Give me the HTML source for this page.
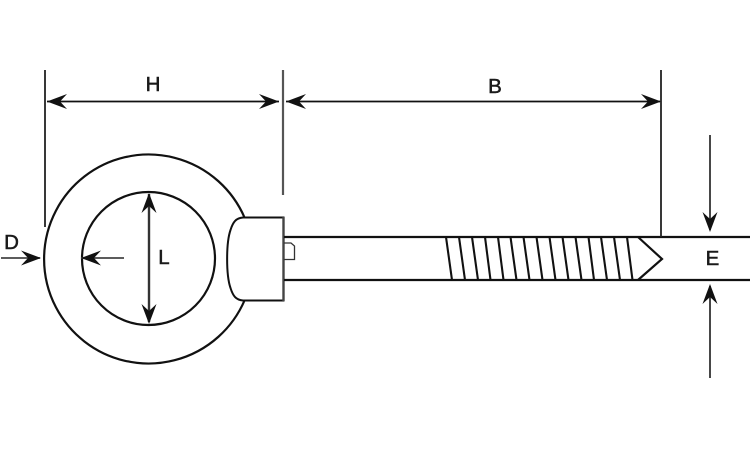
<!DOCTYPE html>
<html>
<head>
<meta charset="utf-8">
<style>
html,body{margin:0;padding:0;background:#fff;width:750px;height:450px;overflow:hidden}
svg{display:block}
text{font-family:"Liberation Sans",sans-serif;font-size:20.5px;fill:#1a1a1a;stroke:#1a1a1a;stroke-width:.5;text-anchor:middle}
#d{filter:blur(.35px)}
</style>
</head>
<body>
<svg width="750" height="450" viewBox="0 0 750 450" xmlns="http://www.w3.org/2000/svg">
<defs>
<path id="a" d="M0 0L-20 -7.500L-13 0L-20 7.500Z" fill="#111"/>
</defs>
<rect width="750" height="450" fill="#fff"/>
<g id="d">
<g fill="none" stroke="#111" stroke-width="2">
<!-- ring -->
<path d="M244.500 217.500A104.500 104.500 0 1 0 244.500 300.500" stroke-width="2.200"/>
<circle cx="148.500" cy="258.500" r="66.500" stroke-width="2.200"/>
<!-- head -->
<path d="M283.500 217.500H243C236 218 233 222 230.500 230C226 243 226 275 230.500 288C233 296 236 300 243 300.500H283.500Z"/>
<line x1="283.500" y1="217" x2="283.500" y2="301" stroke="#444" stroke-width="2.400"/>
<!-- shaft -->
<line x1="284" y1="237" x2="750" y2="237" stroke-width="2.200"/>
<line x1="284" y1="280" x2="750" y2="280" stroke-width="2.200"/>
<path d="M284 243H291L294.500 246V259.500H284" stroke="#333" stroke-width="1.300"/>
<!-- tip -->
<path d="M638 237L662 259L638 280" stroke-width="2.200"/>
<!-- threads -->
<g stroke-width="2.100">
<line x1="446" y1="237" x2="452" y2="280"/>
<line x1="459" y1="237" x2="465" y2="280"/>
<line x1="472" y1="237" x2="478" y2="280"/>
<line x1="485" y1="237" x2="490.500" y2="280"/>
<line x1="498" y1="237" x2="503.500" y2="280"/>
<line x1="510.500" y1="237" x2="516.500" y2="280"/>
<line x1="523.500" y1="237" x2="529.500" y2="280"/>
<line x1="536.500" y1="237" x2="542.500" y2="280"/>
<line x1="549.500" y1="237" x2="555.500" y2="280"/>
<line x1="562.500" y1="237" x2="568.500" y2="280"/>
<line x1="575.500" y1="237" x2="581.500" y2="280"/>
<line x1="588.500" y1="237" x2="594" y2="280"/>
<line x1="601" y1="237" x2="607" y2="280"/>
<line x1="614" y1="237" x2="620" y2="280"/>
<line x1="627" y1="237" x2="632.500" y2="280"/>
</g>
<!-- extension lines -->
<line x1="45" y1="70" x2="45" y2="227" stroke="#222" stroke-width="1.800"/>
<line x1="283" y1="70" x2="283" y2="195" stroke="#555" stroke-width="2.200"/>
<line x1="661" y1="70" x2="661" y2="237" stroke="#222" stroke-width="1.800"/>
<!-- dimension lines -->
<line x1="47" y1="101.500" x2="279" y2="101.500" stroke-width="1.800"/>
<line x1="286" y1="101.500" x2="660" y2="101.500" stroke-width="1.800"/>
<line x1="149" y1="194" x2="149" y2="322" stroke="#333" stroke-width="2.400"/>
<line x1="1" y1="258" x2="40" y2="258" stroke="#444" stroke-width="1.800"/>
<line x1="81" y1="258" x2="124" y2="258" stroke="#444" stroke-width="1.800"/>
<line x1="710" y1="135" x2="710" y2="230" stroke="#333" stroke-width="1.800"/>
<line x1="710" y1="286" x2="710" y2="378" stroke="#333" stroke-width="1.800"/>
</g>
<!-- arrowheads -->
<use href="#a" transform="translate(47 101.500) rotate(180)"/>
<use href="#a" transform="translate(279 101.500)"/>
<use href="#a" transform="translate(286 101.500) rotate(180)"/>
<use href="#a" transform="translate(661 101.500)"/>
<use href="#a" transform="translate(149 193) rotate(-90)"/>
<use href="#a" transform="translate(149 324) rotate(90)"/>
<use href="#a" transform="translate(41 258)"/>
<use href="#a" transform="translate(81 258) rotate(180)"/>
<use href="#a" transform="translate(710 232) rotate(90)"/>
<use href="#a" transform="translate(710 284) rotate(-90)"/>
<!-- labels -->
<text x="153" y="91">H</text>
<text x="495" y="93">B</text>
<text x="11.500" y="249">D</text>
<text x="164" y="264">L</text>
<text x="712.500" y="265">E</text>
</g>
</svg>
</body>
</html>
